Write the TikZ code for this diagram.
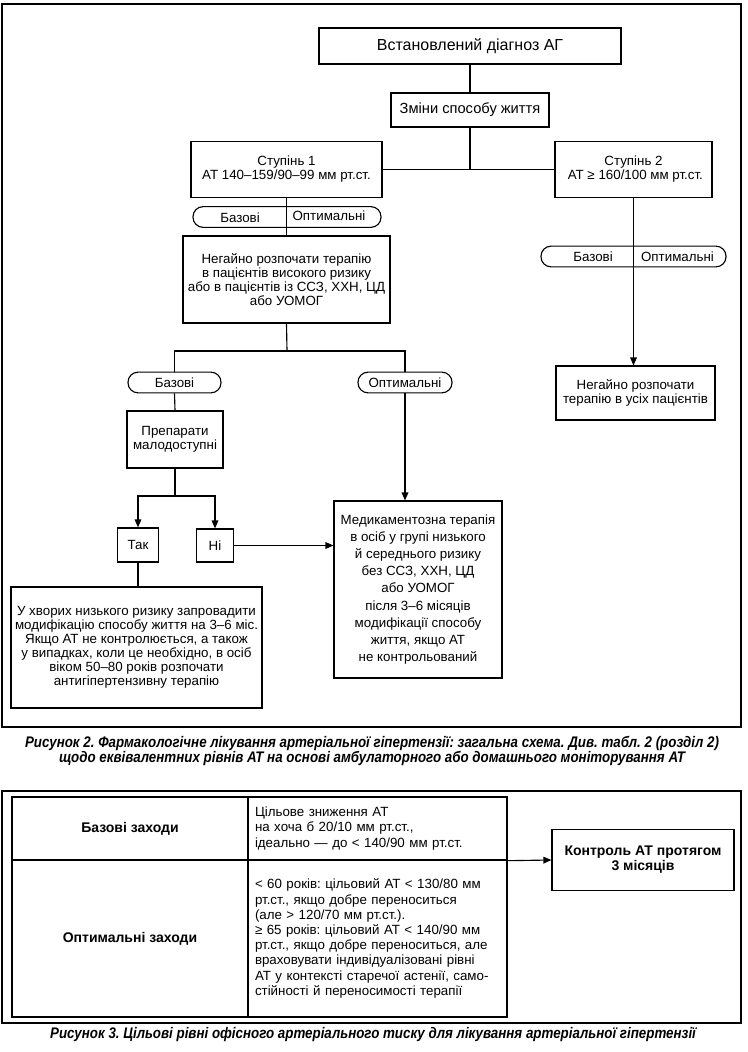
\documentclass[tikz,border=0pt]{standalone}
\usepackage{fontspec}
\setmainfont{Liberation Sans}
\newfontfamily\capfont{Liberation Sans}[FakeStretch=0.87]
\usetikzlibrary{arrows.meta}
\frenchspacing

\begin{document}
\begin{tikzpicture}[x=0.75pt,y=-0.75pt,line width=0.85pt,>={Triangle[length=6pt,width=5pt]},
  box/.style={draw, align=center, inner sep=0pt, font=\fontsize{10}{10.5}\selectfont},
  pill/.style={draw, rounded corners=7.5pt, inner sep=0pt, minimum height=15.5pt, font=\fontsize{10}{10.5}\selectfont},
  tag/.style={inner sep=0pt, font=\fontsize{10}{10.5}\selectfont},
  cell/.style={draw, line width=1pt, inner sep=0pt, font=\fontsize{10}{11.4}\selectfont},
  frame/.style={line width=1.4pt},
  caption/.style={inner sep=0pt, align=center, font=\capfont\bfseries\itshape\fontsize{11.5}{11.25}\selectfont}]
\useasboundingbox (0,0) rectangle (747,1052);

% Рисунок 2
\draw[frame] (2,4) rectangle (741,727);
\node[box, minimum width=226.5pt, minimum height=27pt, font=\fontsize{12}{14}\selectfont] (diag) at (470,46) {Встановлений діагноз АГ};
\node[box, minimum width=118.5pt, minimum height=25.5pt, font=\fontsize{11}{13}\selectfont] (life) at (470,110) {Зміни способу життя};
\node[box, minimum width=143.25pt, minimum height=42pt] (st1) at (286.5,169.5) {Ступінь 1\\АТ 140–159/90–99 мм рт.ст.};
\node[box, minimum width=117.75pt, minimum height=42pt] (st2) at (633.5,169.5) {Ступінь 2\\ \ АТ ≥ 160/100 мм рт.ст.};

\node[pill, minimum width=141pt] (pill1) at (287,217) {};
\node[tag] (b1) at (240,218) {Базові};
\node[tag] (o1) at (329,216) {Оптимальні};
\node[box, minimum width=155.25pt, minimum height=65.25pt] (neg1) at (286.5,279.5) {Негайно розпочати терапію\\в пацієнтів високого ризику\\або в пацієнтів із ССЗ, ХХН, ЦД\\або УОМОГ};

\node[pill, minimum width=138.75pt] (pill4) at (633.5,256.5) {};
\node[tag] (b4) at (593,256.5) {Базові};
\node[tag] (o4) at (677.5,256.5) {Оптимальні};
\node[box, minimum width=119.25pt, minimum height=40.5pt] (all) at (635.5,393) {Негайно розпочати\\терапію в усіх пацієнтів};

\node[pill, minimum width=69.75pt] (pill2) at (174.5,382.5) {Базові};
\node[pill, minimum width=70.5pt] (pill3) at (405,382.5) {Оптимальні};
\node[box, minimum width=72pt, minimum height=42.75pt] (prep) at (175,439.5) {Препарати\\малодоступні};
\node[box, minimum width=30.75pt, minimum height=25.5pt] (tak) at (138,545) {Так};
\node[box, minimum width=27.75pt, minimum height=24.75pt] (ni) at (215,545.5) {Ні};
\node[box, minimum width=188.25pt, minimum height=90.75pt] (big) at (136.5,647.5) {У хворих низького ризику запровадити\\модифікацію способу життя на 3–6 міс.\\Якщо АТ не контролюється, а також\\у випадках, коли це необхідно, в осіб\\віком 50–80 років розпочати\\антигіпертензивну терапію};
\node[box, minimum width=126pt, minimum height=132.75pt, font=\fontsize{10}{12.9}\selectfont] (med) at (418,589.5) {Медикаментозна терапія\\в осіб у групі низького\\й середнього ризику\\без ССЗ, ХХН, ЦД\\або УОМОГ\\після 3–6 місяців\\модифікації способу\\життя, якщо АТ\\не контрольований};

\coordinate (j1) at (life.south |- st1.east);
\coordinate (j2) at (287,351);
\coordinate (j3) at (175,496);
\draw (diag) -- (life);
\draw (life.south) -- (j1);
\draw (st1.east) -- (st2.west);
\draw (st1.south) -- (neg1.north);
\draw (neg1.south) -- (j2);
\draw (pill2.north) |- (j2) -| (pill3.north);
\draw (pill2.south) -- (prep.north);
\draw[->] (pill3.south) -- (pill3.south |- med.north);
\draw (prep.south) -- (j3);
\draw[->] (j3) -| (tak.north);
\draw[->] (j3) -| (ni.north);
\draw[->] (ni.east) -- (ni.east -| med.west);
\draw (tak.south) -- (tak.south |- big.north);
\draw[->] (st2.south) -- (st2.south |- all.north);

\node[caption] (cap2) at (372,750.5) {Рисунок 2. Фармакологічне лікування артеріальної гіпертензії: загальна схема. Див. табл. 2 (розділ 2)\\щодо еквівалентних рівнів АТ на основі амбулаторного або домашнього моніторування АТ};

% Рисунок 3
\draw[frame] (2,791) rectangle (741,1023);
\node[cell, minimum width=177pt, minimum height=47.25pt, font=\bfseries\fontsize{10.5}{12}\selectfont] (base) at (130,828.5) {Базові заходи};
\node[cell, minimum width=194.25pt, minimum height=47.25pt, text width=183.75pt, align=left] (basetxt) at (377.5,828.5) {Цільове зниження АТ\\на хоча б 20/10 мм рт.ст.,\\ідеально — до < 140/90 мм рт.ст.};
\node[cell, minimum width=177pt, minimum height=117.75pt, font=\bfseries\fontsize{10.5}{12}\selectfont] (opt) at (130,938.5) {Оптимальні заходи};
\node[cell, minimum width=194.25pt, minimum height=117.75pt, text width=183.75pt, align=left] (opttxt) at (377.5,938.5) {< 60 років: цільовий АТ < 130/80 мм\\рт.ст., якщо добре переноситься\\(але > 120/70 мм рт.ст.).\\≥ 65 років: цільовий АТ < 140/90 мм\\рт.ст., якщо добре переноситься, але\\враховувати індивідуалізовані рівні\\АТ у контексті старечої астенії, само-\\стійності й переносимості терапії};
\node[box, minimum width=136.5pt, minimum height=45.75pt, font=\bfseries\fontsize{10.5}{11.25}\selectfont] (ctrl) at (643,860) {Контроль АТ протягом\\3 місяців};
\draw[->] (basetxt.south east) -- (ctrl.west);

\node[caption] (cap3) at (373,1035) {Рисунок 3. Цільові рівні офісного артеріального тиску для лікування артеріальної гіпертензії};
\end{tikzpicture}
\end{document}
